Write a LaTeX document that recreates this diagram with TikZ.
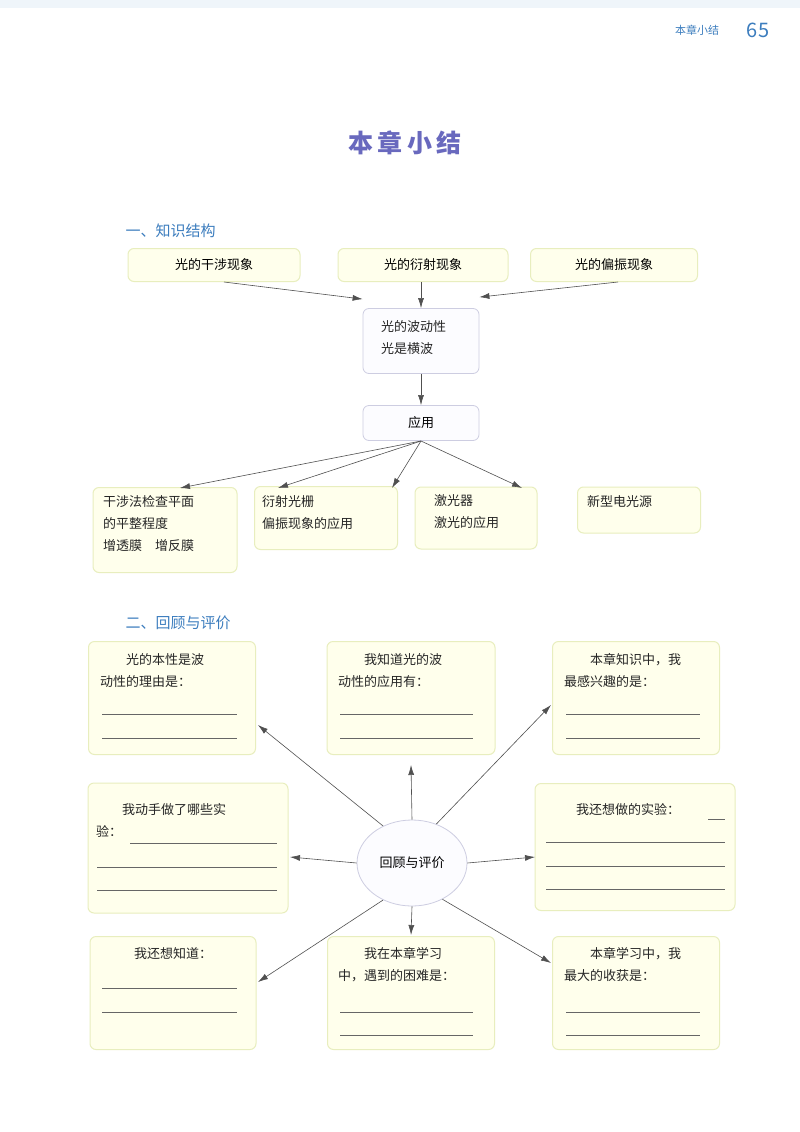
\documentclass[tikz,border=0pt]{standalone}
\usepackage{fontspec}
\setmainfont{Noto Sans CJK SC}
\usetikzlibrary{shapes.geometric,arrows.meta}
\definecolor{yfill}{RGB}{255,255,236}
\definecolor{ydraw}{RGB}{232,238,190}
\definecolor{lfill}{RGB}{252,252,255}
\definecolor{ldraw}{RGB}{205,205,225}
\definecolor{titc}{RGB}{105,105,190}
\definecolor{secc}{RGB}{60,125,190}
\definecolor{arr}{RGB}{80,80,80}
\begin{document}
\begin{tikzpicture}[x=1pt,y=-1pt,
 ybox/.style={draw=ydraw,fill=yfill,line width=1pt,rounded corners=6pt,inner sep=0pt},
 lbox/.style={draw=ldraw,fill=lfill,line width=0.8pt,rounded corners=6pt,inner sep=0pt},
 txt/.style={font=\fontsize{13}{22}\selectfont,anchor=north west,inner sep=0pt,align=left,text=black!85},
 con/.style={draw=arr,line width=0.6pt,-{Latex[length=10pt,width=6pt]}},
 rul/.style={draw=black!60,line width=0.5pt}]
\useasboundingbox (0,0) rectangle (800,1132);
\fill[white] (0,0) rectangle (800,1132);
\fill[secc!8] (0,0) rectangle (800,8);
\node[font=\fontsize{11}{11}\selectfont,text=secc] (hdr) at (697,30) {本章小结};
\node[font=\fontsize{20}{20}\selectfont,text=secc] (pg) at (758,30) {65};
\node[font=\bfseries\fontsize{25}{25}\selectfont,text=titc] (title) at (405,143) {本\,章\,小\,结};
\node[font=\fontsize{15}{15}\selectfont,text=secc,anchor=west] (s1) at (122,231) {一、知识结构};
\node[font=\fontsize{15}{15}\selectfont,text=secc,anchor=west] (s2) at (122,623) {二、回顾与评价};
% part 1
\node[ybox,minimum width=172pt,minimum height=33pt,font=\fontsize{13}{13}\selectfont] (t1) at (214,265) {光的干涉现象};
\node[ybox,minimum width=170pt,minimum height=33pt,font=\fontsize{13}{13}\selectfont] (t2) at (423,265) {光的衍射现象};
\node[ybox,minimum width=167pt,minimum height=33pt,font=\fontsize{13}{13}\selectfont] (t3) at (614,265) {光的偏振现象};
\node[lbox,minimum width=116pt,minimum height=65pt] (wave) at (421,341) {};
\node[txt] (wavet) at (381,320) {光的波动性\\光是横波};
\node[lbox,minimum width=116pt,minimum height=35pt,font=\fontsize{13}{13}\selectfont] (app) at (421,423) {应用};
\node[ybox,minimum width=144pt,minimum height=85pt] (a1) at (165,530) {};
\node[txt] at (103,495) {干涉法检查平面\\的平整程度\\增透膜\quad 增反膜};
\node[ybox,minimum width=143pt,minimum height=63pt] (a2) at (326,518) {};
\node[txt] at (262,495) {衍射光栅\\偏振现象的应用};
\node[ybox,minimum width=122pt,minimum height=62pt] (a3) at (476,518) {};
\node[txt] at (434,494) {激光器\\激光的应用};
\node[ybox,minimum width=123pt,minimum height=46pt] (a4) at (639,510) {};
\node[txt] at (587,495) {新型电光源};
\draw[con] ([xshift=10pt]t1.south) -- ([yshift=9pt]wave.north west);
\draw[con] (t2.south -| wave.north) -- (wave.north);
\draw[con] ([xshift=-80pt]t3.south east) -- ([yshift=11pt]wave.north east);
\draw[con] (wave) -- (app);
\coordinate (ab) at (421,441);
\draw[con] (ab) -- (180,488);
\draw[con] (ab) -- (278,488);
\draw[con] (ab) -- (392,488);
\draw[con] (ab) -- (522,488);
% part 2
\node[ybox,minimum width=167pt,minimum height=113pt] (b1) at (172,698) {};
\node[txt] at (100,653) {\hspace*{26pt}光的本性是波\\动性的理由是：};
\draw[rul] (102,714) -- (237,714) (102,738) -- (237,738);
\node[ybox,minimum width=168pt,minimum height=113pt] (b2) at (411,698) {};
\node[txt] at (338,653) {\hspace*{26pt}我知道光的波\\动性的应用有：};
\draw[rul] (340,714) -- (473,714) (340,738) -- (473,738);
\node[ybox,minimum width=167pt,minimum height=113pt] (b3) at (636,698) {};
\node[txt] at (564,653) {\hspace*{26pt}本章知识中，我\\最感兴趣的是：};
\draw[rul] (566,714) -- (700,714) (566,738) -- (700,738);
\node[ybox,minimum width=200pt,minimum height=130pt] (b4) at (188,848) {};
\node[txt] at (96,803) {\hspace*{26pt}我动手做了哪些实\\验：};
\draw[rul] (130,843) -- (277,843) (97,867) -- (277,867) (97,890) -- (277,890);
\node[ybox,minimum width=200pt,minimum height=127pt] (b5) at (635,847) {};
\node[txt] at (576,803) {我还想做的实验：};
\draw[rul] (708,819) -- (725,819) (546,842) -- (725,842) (546,866) -- (725,866) (546,889) -- (725,889);
\node[ybox,minimum width=166pt,minimum height=113pt] (b6) at (173,993) {};
\node[txt] at (134,947) {我还想知道：};
\draw[rul] (102,988) -- (237,988) (102,1012) -- (237,1012);
\node[ybox,minimum width=167pt,minimum height=113pt] (b7) at (411,993) {};
\node[txt] at (338,947) {\hspace*{26pt}我在本章学习\\中，遇到的困难是：};
\draw[rul] (340,1012) -- (473,1012) (340,1035) -- (473,1035);
\node[ybox,minimum width=167pt,minimum height=113pt] (b8) at (636,993) {};
\node[txt] at (564,947) {\hspace*{26pt}本章学习中，我\\最大的收获是：};
\draw[rul] (566,1012) -- (700,1012) (566,1035) -- (700,1035);
\node[ellipse,draw=ldraw,fill=lfill,line width=0.8pt,minimum width=110pt,minimum height=86pt,font=\fontsize{13}{13}\selectfont] (ell) at (412,863) {回顾与评价};
\draw[con] (ell.128) -- (258,725);
\draw[con] (ell.north) -- (411,765);
\draw[con] (ell.58) -- (551,705);
\draw[con] (ell.west) -- (290,857);
\draw[con] (ell.east) -- (535,857);
\draw[con] (ell.-128) -- (258,982);
\draw[con] (ell.south) -- (411,935);
\draw[con] (ell.-50) -- (551,963);
\end{tikzpicture}
\end{document}
